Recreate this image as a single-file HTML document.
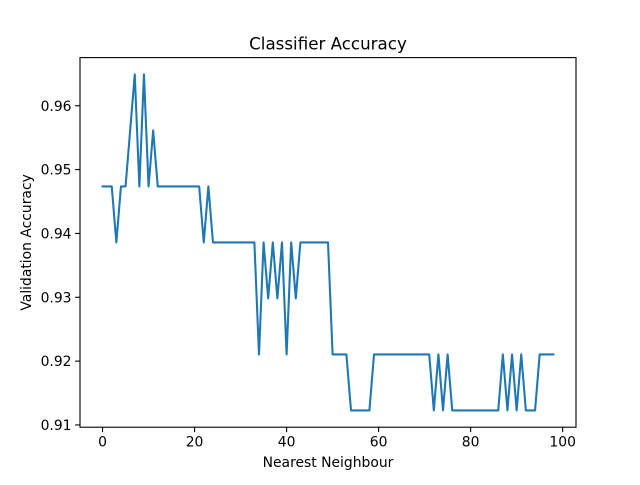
<!DOCTYPE html>
<html><head><meta charset="utf-8"><style>
body{margin:0;background:#fff}
svg text{font-family:"DejaVu Sans","Liberation Sans",sans-serif;fill:#000}
</style></head><body>
<svg id="chart" width="640" height="480" xmlns="http://www.w3.org/2000/svg"></svg>
<script>
const xTicks=[0,20,40,60,80,100];
const yTicks=[0.91,0.92,0.93,0.94,0.95,0.96];
const yTickLabels=["0.91","0.92","0.93","0.94","0.95","0.96"];
const correctCounts=[108,108,108,107,108,108,109,110,108,110,108,109,108,108,108,108,108,108,108,108,108,108,107,108,107,107,107,107,107,107,107,107,107,107,105,107,106,107,106,107,105,107,106,107,107,107,107,107,107,107,105,105,105,105,104,104,104,104,104,105,105,105,105,105,105,105,105,105,105,105,105,105,104,105,104,105,104,104,104,104,104,104,104,104,104,104,104,105,104,105,104,105,104,104,104,105,105,105,105];
const total=114;
const accuracy=correctCounts.map(c=>c/total);
const ns="http://www.w3.org/2000/svg";
const svg=document.getElementById('chart');
const L=80,R=576,T=57.6,B=427.2;
const xmin=0,xmax=accuracy.length-1,xm=(xmax-xmin)*0.05;
const ymin=Math.min(...accuracy),ymax=Math.max(...accuracy),ym=(ymax-ymin)*0.05;
const X=v=>L+(v-(xmin-xm))/((xmax+xm)-(xmin-xm))*(R-L);
const Y=v=>B-(v-(ymin-ym))/((ymax+ym)-(ymin-ym))*(B-T);
function mk(t,a){const e=document.createElementNS(ns,t);for(const k in a)e.setAttribute(k,a[k]);svg.appendChild(e);return e;}
const line=mk('polyline',{points:accuracy.map((v,i)=>X(i)+','+Y(v)).join(' '),fill:'none',stroke:'#1f77b4','stroke-width':2.08,'stroke-linejoin':'round','stroke-linecap':'square'});


const frame=mk('rect',{x:L,y:T,width:R-L,height:B-T,fill:'none',stroke:'#000','stroke-width':1.1});


xTicks.forEach(t=>{const x=X(t);
 const tk=mk('line',{x1:x,x2:x,y1:B,y2:B+4.9,stroke:'#000','stroke-width':1.1});
 
 
 const tx=mk('text',{x:x,y:B+19.5,'font-size':13.9,'text-anchor':'middle'});tx.textContent=t;
 
 
});
yTicks.forEach((t,i)=>{const y=Y(t);
 const tk=mk('line',{x1:L-4.9,x2:L,y1:y,y2:y,stroke:'#000','stroke-width':1.1});
 
 
 const tx=mk('text',{x:L-8.5,y:y+5,'font-size':13.9,'text-anchor':'end'});tx.textContent=yTickLabels[i];
 
 
});
const title=mk('text',{x:(L+R)/2,y:49.5,'font-size':16.7,'text-anchor':'middle'});title.textContent='Classifier Accuracy';


const xl=mk('text',{x:(L+R)/2,y:467,'font-size':13.9,'text-anchor':'middle'});xl.textContent='Nearest Neighbour';


const yl=mk('text',{x:0,y:0,'font-size':13.9,'text-anchor':'middle',transform:'translate(31,'+((T+B)/2)+') rotate(-90)'});yl.textContent='Validation Accuracy';


</script>
</body></html>
